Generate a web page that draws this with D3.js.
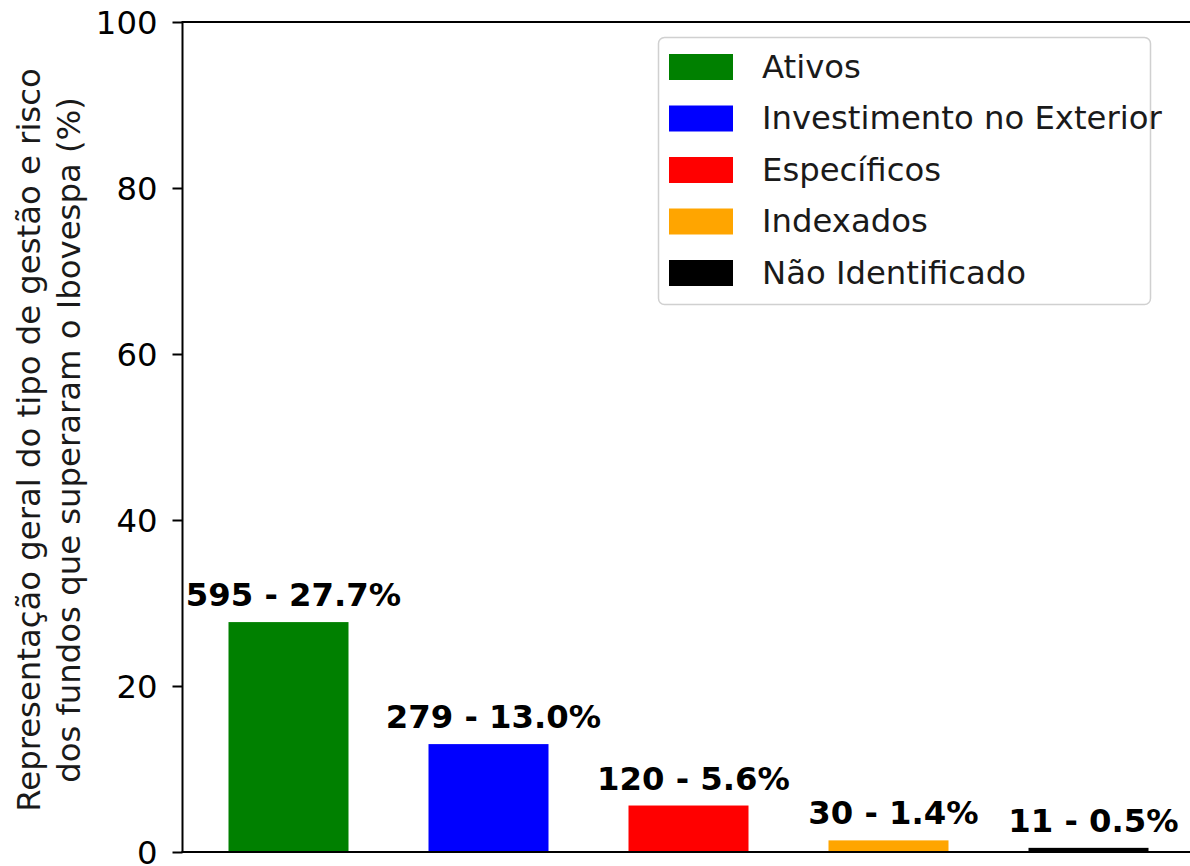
<!DOCTYPE html>
<html>
<head>
<meta charset="utf-8">
<script src="https://cdn.jsdelivr.net/npm/d3@7"></script>
<style>
  html, body { margin: 0; padding: 0; background: #fff; }
  svg { display: block; font-family: "DejaVu Sans", sans-serif; }
</style>
</head>
<body>
<svg id="chart" width="1190" height="866"></svg>
<script>
const categories = ["Ativos", "Investimento no Exterior", "Específicos", "Indexados", "Não Identificado"];
const counts = [595, 279, 120, 30, 11];
const percents = [27.7, 13.0, 5.6, 1.4, 0.5];
const colors = ["#008000", "#0000ff", "#ff0000", "#ffa500", "#000000"];
const yTicks = [0, 20, 40, 60, 80, 100];
const yLabelLines = ["Representação geral do tipo de gestão e risco", "dos fundos que superaram o Ibovespa (%)"];

(function () {
const svg = d3.select("#chart");
const mLeft = 182.5, mRight = 1194.5, mTop = 22, mBottom = 852;
const fs = 32.3;

const x = d3.scaleBand().domain(categories).range([mLeft, mRight]).paddingInner(0.4).paddingOuter(0.23);
const y = d3.scaleLinear().domain([0, 100]).range([mBottom, mTop]);

// bars
svg.append("g").selectAll("rect").data(categories).join("rect")
  .attr("x", d => x(d))
  .attr("width", x.bandwidth())
  .attr("y", (d, i) => y(percents[i]))
  .attr("height", (d, i) => y(0) - y(percents[i]))
  .attr("fill", (d, i) => colors[i]);

// bar labels
svg.append("g").selectAll("text").data(categories).join("text")
  .attr("x", d => x(d) + x.bandwidth() / 2 + 5)
  .attr("y", (d, i) => y(percents[i] + 1) - 0.236 * fs)
  .attr("text-anchor", "middle")
  .attr("font-weight", "bold")
  .attr("font-size", fs)
  .attr("fill", "#000")
  .text((d, i) => `${counts[i]} - ${percents[i].toFixed(1)}%`);

// y axis
const yAxis = d3.axisLeft(y).tickValues(yTicks).tickSize(10).tickPadding(15).tickFormat(d3.format("d"));
const gy = svg.append("g").attr("transform", `translate(${mLeft},0)`).call(yAxis);
gy.select(".domain").remove();
gy.selectAll(".tick line").attr("stroke", "#000").attr("stroke-width", 2);
gy.selectAll(".tick text").attr("font-size", fs).attr("font-family", "DejaVu Sans, sans-serif").attr("fill", "#000").attr("dy", "0.35em");

// spines
const spine = (x1, y1, x2, y2) => svg.append("line").attr("x1", x1).attr("y1", y1).attr("x2", x2).attr("y2", y2)
  .attr("stroke", "#000").attr("stroke-width", 2);
spine(mLeft, mTop, mLeft, mBottom);
spine(mLeft - 1, mTop, mRight, mTop);
spine(mLeft - 1, mBottom, mRight, mBottom);
spine(mRight, mTop, mRight, mBottom);

// y label
const cy = (mTop + mBottom) / 2 + 3;
const yl = svg.append("text")
  .attr("transform", `translate(0,${cy}) rotate(-90)`)
  .attr("text-anchor", "middle")
  .attr("font-size", fs)
  .attr("fill", "#1a1a1a");
yLabelLines.forEach((line, i) => {
  yl.append("tspan").attr("x", 0).attr("y", 40 + i * 39.5).text(line);
});

// legend
const lg = svg.append("g");
lg.append("rect").attr("x", 658.5).attr("y", 37.5).attr("width", 492).attr("height", 267)
  .attr("rx", 6).attr("fill", "#fff").attr("fill-opacity", 0.8).attr("stroke", "#d0d0d0").attr("stroke-width", 1.5);
const rowY = i => 67 + i * 51.5;
const items = lg.selectAll("g.item").data(categories).join("g").attr("class", "item");
items.append("rect").attr("x", 669).attr("y", (d, i) => rowY(i) - 13).attr("width", 64).attr("height", 26)
  .attr("fill", (d, i) => colors[i]);
items.append("text").attr("x", 762).attr("y", (d, i) => rowY(i) + 0.34 * fs)
  .attr("font-size", fs).attr("fill", "#1a1a1a").text(d => d);
})();
</script>
</body>
</html>
